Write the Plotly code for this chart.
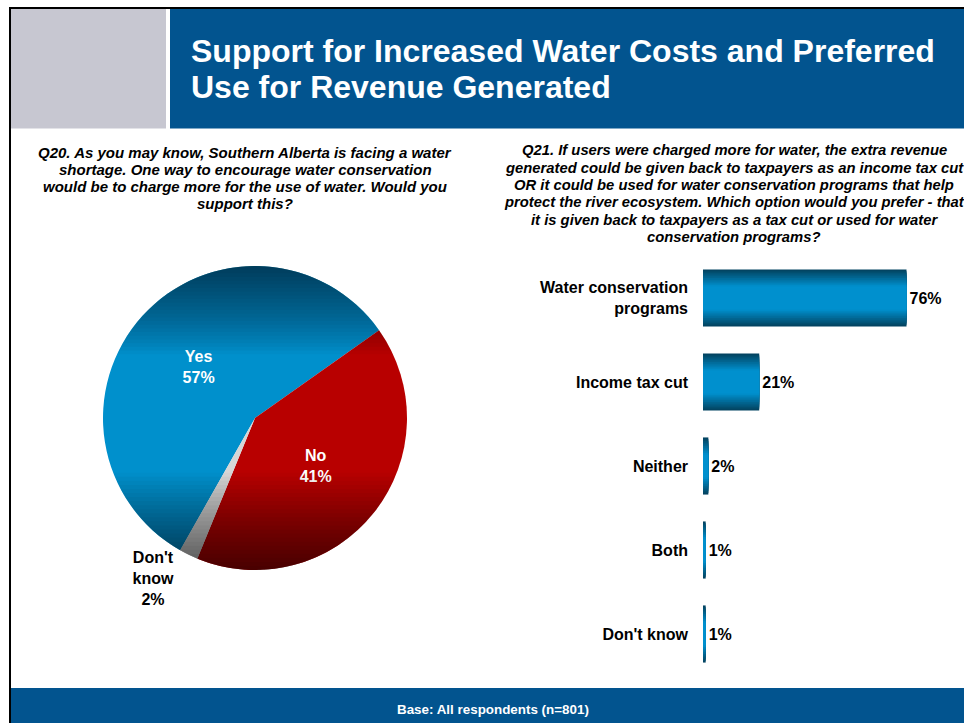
import numpy as np
import plotly.graph_objects as go

W, H = 964, 723

# ---------------- data ----------------
pie_labels = ["Yes", "No", "Don't know"]
pie_display = ["Yes", "No", "Don't<br>know"]
pie_values = [57, 41, 2]

bar_categories = ["Water conservation<br>programs", "Income tax cut", "Neither", "Both", "Don't know"]
bar_values = [76, 21, 2, 1, 1]

title_lines = ["Support for Increased Water Costs and Preferred", "Use for Revenue Generated"]
q20_lines = ["Q20. As you may know, Southern Alberta is facing a water",
             "shortage. One way to encourage water conservation",
             "would be to charge more for the use of water. Would you",
             "support this?"]
q21_lines = ["Q21. If users were charged more for water, the extra revenue",
             "generated could be given back to taxpayers as an income tax cut",
             "OR it could be used for water conservation programs that help",
             "protect the river ecosystem. Which option would you prefer - that",
             "it is given back to taxpayers as a tax cut or used for water",
             "conservation programs?"]
footer_text = "Base: All respondents (n=801)"

# ---------------- style ----------------
FONT = "Liberation Sans, Arial, sans-serif"
HEADER_BLUE = "#02548F"
GRAY_BOX = "#C7C7D1"
PIE_COLORS = ["#0090CC", "#B80000", "#D6D6D6"]
BAR_DARK = np.array([0x03, 0x40, 0x5C])
BAR_LIGHT = np.array([0x00, 0x90, 0xCE])


def px(x):
    return x / W


def py(y):
    return 1 - y / H


fig = go.Figure()

# ---------------- pie ----------------
cx, cy, R = 255, 418, 152
fig.add_trace(go.Pie(
    labels=pie_labels,
    values=pie_values,
    customdata=pie_display,
    sort=False,
    direction="clockwise",
    rotation=209.5,
    domain=dict(x=[px(cx - R), px(cx + R)], y=[py(cy + R), py(cy - R)]),
    marker=dict(colors=PIE_COLORS, line=dict(width=0)),
    texttemplate="%{customdata}<br>%{value}%",
    textposition=["inside", "inside", "outside"],
    insidetextorientation="horizontal",
    textfont=dict(family=FONT, size=16, color=["white", "white", "black"], weight="bold"),
    outsidetextfont=dict(family=FONT, size=16, color="black", weight="bold"),
    showlegend=False,
    hoverinfo="skip",
))

# ---------------- bars (layered for a gradient look) ----------------
BAR_W = 0.68
L = 10
for i in range(L + 1):
    e = 0.3 * i / L
    width = BAR_W * (1 - 2 * e)
    t = min(1.0, (e + 0.3 / L * 0.5) / 0.3) if i < L else 1.0
    c = BAR_DARK + (BAR_LIGHT - BAR_DARK) * t
    color = "rgb(%d,%d,%d)" % tuple(int(round(v)) for v in c)
    fig.add_trace(go.Bar(
        x=bar_values,
        y=bar_categories,
        orientation="h",
        width=width,
        marker=dict(color=color, line=dict(width=0)),
        text=[f"{v}%" for v in bar_values] if i == 0 else None,
        textposition="outside" if i == 0 else "none",
        textfont=dict(family=FONT, size=16, color="black", weight="bold"),
        cliponaxis=False,
        showlegend=False,
        hoverinfo="skip",
    ))

# ---------------- shapes: frame, header boxes, footer ----------------
shapes = [
    dict(type="rect", xref="paper", yref="paper", x0=px(11), x1=px(166), y0=py(128.5), y1=py(9),
         fillcolor=GRAY_BOX, line=dict(width=0), layer="below"),
    dict(type="rect", xref="paper", yref="paper", x0=px(170), x1=px(964), y0=py(128.5), y1=py(9),
         fillcolor=HEADER_BLUE, line=dict(width=0), layer="below"),
    dict(type="rect", xref="paper", yref="paper", x0=px(11), x1=px(964), y0=py(723), y1=py(688),
         fillcolor=HEADER_BLUE, line=dict(width=0), layer="below"),
    dict(type="rect", xref="paper", yref="paper", x0=px(9), x1=px(964), y0=py(9), y1=py(7),
         fillcolor="black", line=dict(width=0), layer="below"),
    dict(type="rect", xref="paper", yref="paper", x0=px(9), x1=px(11), y0=py(723), y1=py(7),
         fillcolor="black", line=dict(width=0), layer="below"),
]


# vertical shading of the pie: stacked translucent circle caps
TOP_START, BOT_START = -0.42, 0.36


def D_top(h):
    v = (TOP_START - h) / (1 + TOP_START)
    return 0.0 if v <= 0 else 0.52 * v ** 0.8


def D_bot(h):
    v = (h - BOT_START) / (1 - BOT_START)
    return 0.0 if v <= 0 else 0.58 * v ** 0.9


def cap_path(hc, top=True, n=90):
    a = np.arcsin(np.clip(hc, -1, 1))
    if top:
        ts = np.linspace(-np.pi - a, a, n)
    else:
        ts = np.linspace(a, np.pi - a, n)
    xs = cx + R * np.cos(ts)
    ys = cy + R * np.sin(ts)
    pts = [f"{px(x):.5f},{py(y):.5f}" for x, y in zip(xs, ys)]
    return "M " + " L ".join(pts) + " Z"


N = 24
span = 1 + TOP_START
prev = 0.0
for k in range(N):
    hk = TOP_START - span * k / N
    mid = hk - span / N / 2
    target = D_top(mid)
    a_k = 1 - (1 - target) / (1 - prev)
    prev = target
    shapes.append(dict(type="path", xref="paper", yref="paper", path=cap_path(hk, True),
                       fillcolor=f"rgba(0,0,0,{a_k:.4f})", line=dict(width=0), layer="above"))
span = 1 - BOT_START
prev = 0.0
for k in range(N):
    hk = BOT_START + span * k / N
    mid = hk + span / N / 2
    target = D_bot(mid)
    a_k = 1 - (1 - target) / (1 - prev)
    prev = target
    shapes.append(dict(type="path", xref="paper", yref="paper", path=cap_path(hk, False),
                       fillcolor=f"rgba(0,0,0,{a_k:.4f})", line=dict(width=0), layer="above"))

# ---------------- annotations ----------------
annotations = [
    dict(text=title_lines[0], x=px(189), y=py(51), xref="paper", yref="paper",
         xanchor="left", yanchor="middle", showarrow=False,
         font=dict(family=FONT, size=32, color="white", weight="bold")),
    dict(text=title_lines[1], x=px(189), y=py(87), xref="paper", yref="paper",
         xanchor="left", yanchor="middle", showarrow=False,
         font=dict(family=FONT, size=32, color="white", weight="bold")),
    dict(text=footer_text, x=px(493), y=py(709), xref="paper", yref="paper",
         xanchor="center", yanchor="middle", showarrow=False,
         font=dict(family=FONT, size=13.4, color="white", weight="bold")),
]
for j, line in enumerate(q20_lines):
    annotations.append(dict(text=line, x=px(245), y=py(152.7 + 16.9 * j), xref="paper", yref="paper",
                            xanchor="center", yanchor="middle", showarrow=False,
                            font=dict(family=FONT, size=15, color="black", weight="bold", style="italic")))
for j, line in enumerate(q21_lines):
    annotations.append(dict(text=line, x=px(734), y=py(150.3 + 17.3 * j), xref="paper", yref="paper",
                            xanchor="center", yanchor="middle", showarrow=False,
                            font=dict(family=FONT, size=14.8, color="black", weight="bold", style="italic")))

fig.update_layout(
    width=W, height=H,
    margin=dict(l=0, r=0, t=0, b=0),
    paper_bgcolor="white", plot_bgcolor="rgba(0,0,0,0)",
    barmode="overlay",
    shapes=shapes,
    annotations=annotations,
    showlegend=False,
    xaxis=dict(domain=[px(703), px(944)], range=[0, 90], visible=False, fixedrange=True),
    yaxis=dict(domain=[py(676), py(256)], range=[4.5, -0.5], showgrid=False, zeroline=False,
               showline=False, ticks="", ticklabelstandoff=14,
               tickfont=dict(family=FONT, size=16, color="black", weight="bold"), fixedrange=True),
)

fig.write_html("out.html", config={"displayModeBar": False},
               post_script="document.body.style.margin='0';document.body.style.padding='0';")
